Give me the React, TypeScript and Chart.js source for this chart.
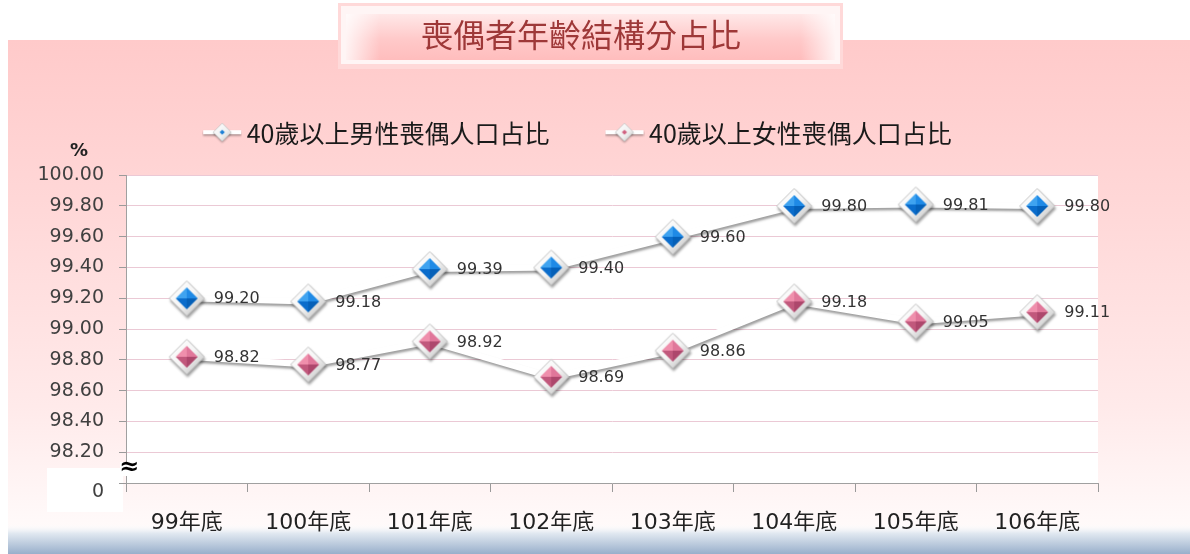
import React, { useEffect, useRef } from 'react';
import { Chart, registerables } from 'chart.js';

Chart.register(...registerables);

// ---------- data ----------
const categories = ['99年底', '100年底', '101年底', '102年底', '103年底', '104年底', '105年底', '106年底'];
const seriesNames = ['40歲以上男性喪偶人口占比', '40歲以上女性喪偶人口占比'];
const maleValues = [99.2, 99.18, 99.39, 99.4, 99.6, 99.8, 99.81, 99.8];
const femaleValues = [98.82, 98.77, 98.92, 98.69, 98.86, 99.18, 99.05, 99.11];
const yMin = 98.0;
const yMax = 100.0;
const yStep = 0.2;
const titleText = '喪偶者年齡結構分占比';
const unitLabel = '%';
const breakLabel = '0';
const breakSymbol = '≈';

// ---------- drawing helpers ----------
function diamondPath(g: CanvasRenderingContext2D, cx: number, cy: number, r: number) {
  g.beginPath();
  g.moveTo(cx, cy - r);
  g.lineTo(cx + r, cy);
  g.lineTo(cx, cy + r);
  g.lineTo(cx - r, cy);
  g.closePath();
}

function tri(g: CanvasRenderingContext2D, pts: number[][], color: string) {
  g.beginPath();
  g.moveTo(pts[0][0], pts[0][1]);
  g.lineTo(pts[1][0], pts[1][1]);
  g.lineTo(pts[2][0], pts[2][1]);
  g.closePath();
  g.fillStyle = color;
  g.fill();
}

function makeMarker(facets: string[]) {
  const size = 42;
  const c = document.createElement('canvas');
  c.width = size;
  c.height = size;
  const g = c.getContext('2d')!;
  const cx = size / 2;
  const cy = size / 2;
  const R = 17.5;
  const r = 11;
  diamondPath(g, cx, cy, R);
  const og = g.createLinearGradient(cx - R, cy - R, cx + R, cy + R);
  og.addColorStop(0, '#ffffff');
  og.addColorStop(0.5, '#f6f6f6');
  og.addColorStop(1, '#b8b8b8');
  g.fillStyle = og;
  g.fill();
  g.strokeStyle = '#c4c4c4';
  g.lineWidth = 1;
  g.stroke();
  // facets: top-left, top-right, bottom-right, bottom-left
  tri(g, [[cx - r, cy], [cx, cy - r], [cx, cy]], facets[0]);
  tri(g, [[cx, cy - r], [cx + r, cy], [cx, cy]], facets[1]);
  tri(g, [[cx + r, cy], [cx, cy + r], [cx, cy]], facets[2]);
  tri(g, [[cx, cy + r], [cx - r, cy], [cx, cy]], facets[3]);
  return c;
}

function makeLegendIcon(color: string) {
  const w = 40;
  const h = 26;
  const c = document.createElement('canvas');
  c.width = w;
  c.height = h;
  const g = c.getContext('2d')!;
  const cy = 12;
  g.save();
  g.shadowColor = 'rgba(0,0,0,0.35)';
  g.shadowBlur = 2;
  g.shadowOffsetY = 1.5;
  g.strokeStyle = '#ffffff';
  g.lineWidth = 4;
  g.beginPath();
  g.moveTo(1, cy);
  g.lineTo(w - 1, cy);
  g.stroke();
  diamondPath(g, w / 2, cy, 9);
  const og = g.createLinearGradient(w / 2 - 9, cy - 9, w / 2 + 9, cy + 9);
  og.addColorStop(0, '#ffffff');
  og.addColorStop(0.6, '#f0f0f0');
  og.addColorStop(1, '#c0c0c0');
  g.fillStyle = og;
  g.fill();
  g.restore();
  g.strokeStyle = '#c8c8c8';
  g.lineWidth = 0.8;
  diamondPath(g, w / 2, cy, 9);
  g.stroke();
  diamondPath(g, w / 2, cy, 2.6);
  g.fillStyle = color;
  g.fill();
  return c;
}

const FONT_LATIN = "'DejaVu Sans', 'Noto Sans CJK TC', sans-serif";
const FONT_CJK = "'Noto Sans CJK TC', 'DejaVu Sans', sans-serif";

const backgroundPlugin = {
  id: 'backgroundPanels',
  beforeDraw(chart: any) {
    const { ctx, chartArea } = chart;
    const W = chart.width;
    const H = chart.height;
    ctx.save();
    ctx.fillStyle = '#ffffff';
    ctx.fillRect(0, 0, W, H);
    // pink panel
    const pg = ctx.createLinearGradient(0, 40, 0, 528);
    pg.addColorStop(0, '#ffcaca');
    pg.addColorStop(0.35, '#ffd8d8');
    pg.addColorStop(0.75, '#ffeaea');
    pg.addColorStop(1, '#fffafa');
    ctx.fillStyle = pg;
    ctx.fillRect(8, 40, W - 8, 514);
    // blue bottom band
    const bg = ctx.createLinearGradient(0, 524, 0, 554);
    bg.addColorStop(0, 'rgba(255,255,255,0)');
    bg.addColorStop(0.3, '#e2e9f1');
    bg.addColorStop(1, '#98afcb');
    ctx.fillStyle = bg;
    ctx.fillRect(8, 524, W - 8, 30);
    // title box
    ctx.fillStyle = '#ffd9d9';
    ctx.fillRect(338, 3, 505, 66);
    ctx.fillStyle = '#fff5f5';
    ctx.fillRect(341, 6, 499, 58);
    const tg = ctx.createLinearGradient(0, 14, 0, 60);
    tg.addColorStop(0, '#ffe8e8');
    tg.addColorStop(0.55, '#ffc9c9');
    tg.addColorStop(1, '#ffbdbd');
    ctx.fillStyle = tg;
    ctx.fillRect(346, 14, 489, 46);
    const hg = ctx.createLinearGradient(346, 0, 835, 0);
    hg.addColorStop(0, 'rgba(255,255,255,0.8)');
    hg.addColorStop(0.07, 'rgba(255,255,255,0)');
    hg.addColorStop(0.93, 'rgba(255,255,255,0)');
    hg.addColorStop(1, 'rgba(255,255,255,0.8)');
    ctx.fillStyle = hg;
    ctx.fillRect(346, 14, 489, 46);
    // white box behind axis break label
    ctx.fillStyle = '#ffffff';
    ctx.fillRect(47, 468, 76, 44);
    // plot area
    ctx.fillStyle = '#ffffff';
    ctx.fillRect(chartArea.left, chartArea.top, chartArea.right - chartArea.left, chartArea.bottom - chartArea.top);
    ctx.restore();
  },
};

const shadowPlugin = {
  id: 'lineShadow',
  beforeDatasetDraw(chart: any) {
    const ctx = chart.ctx;
    ctx.save();
    ctx.shadowColor = 'rgba(0,0,0,0.38)';
    ctx.shadowBlur = 2.5;
    ctx.shadowOffsetX = 1;
    ctx.shadowOffsetY = 2.5;
  },
  afterDatasetDraw(chart: any) {
    chart.ctx.restore();
  },
};

const labelsPlugin = {
  id: 'valueLabels',
  afterDatasetsDraw(chart: any) {
    const ctx = chart.ctx;
    ctx.save();
    ctx.font = `16px ${FONT_LATIN}`;
    ctx.fillStyle = '#333333';
    ctx.textAlign = 'left';
    ctx.textBaseline = 'middle';
    chart.data.datasets.forEach((ds: any, di: number) => {
      const meta = chart.getDatasetMeta(di);
      meta.data.forEach((pt: any, i: number) => {
        ctx.fillText(Number(ds.data[i]).toFixed(2), pt.x + 27, pt.y + 1);
      });
    });
    ctx.restore();
  },
  afterDraw(chart: any) {
    const ctx = chart.ctx;
    const { chartArea } = chart;
    ctx.save();
    // unit label
    ctx.font = `bold 18px ${FONT_LATIN}`;
    ctx.fillStyle = '#222222';
    ctx.textAlign = 'center';
    ctx.textBaseline = 'middle';
    ctx.fillText(unitLabel, 79, 151);
    // axis break
    ctx.fillStyle = '#ffffff';
    ctx.fillRect(chartArea.left - 6, 462, 14, 14);
    ctx.font = `bold 24px 'DejaVu Serif', serif`;
    ctx.fillStyle = '#000000';
    ctx.fillText(breakSymbol, chartArea.left + 3, 468);
    // zero label
    ctx.font = `19px ${FONT_LATIN}`;
    ctx.fillStyle = '#404040';
    ctx.textAlign = 'right';
    ctx.fillText(breakLabel, 104, 492);
    ctx.restore();
  },
};

export default function App() {
  const canvasRef = useRef<HTMLCanvasElement>(null);

  useEffect(() => {
    document.body.style.margin = '0';
    document.body.style.overflow = 'hidden';
    const blueMarker = makeMarker(['#3fa3f0', '#1f8ae6', '#0560b8', '#0a6ccb']);
    const pinkMarker = makeMarker(['#ef8fac', '#e0779a', '#ad476c', '#c1587c']);
    const legendIcons = [makeLegendIcon('#1a7fd6'), makeLegendIcon('#d0607f')];

    const chart = new Chart(canvasRef.current!, {
      type: 'line',
      data: {
        labels: categories,
        datasets: [
          {
            label: seriesNames[0],
            data: maleValues,
            borderColor: '#ffffff',
            backgroundColor: '#1a7fd6',
            borderWidth: 6,
            pointStyle: blueMarker as any,
            pointRadius: 17,
            tension: 0,
            yAxisID: 'y',
          },
          {
            label: seriesNames[1],
            data: femaleValues,
            borderColor: '#ffffff',
            backgroundColor: '#d0607f',
            borderWidth: 6,
            pointStyle: pinkMarker as any,
            pointRadius: 17,
            tension: 0,
            yAxisID: 'y',
          },
        ],
      },
      options: {
        responsive: false,
        animation: false,
        devicePixelRatio: 1,
        events: [],
        layout: { padding: { left: 0, right: 28, top: 0, bottom: 0 } },
        scales: {
          x: {
            type: 'category',
            offset: true,
            grid: {
              display: true,
              drawOnChartArea: false,
              offset: true,
              tickLength: 9,
              tickColor: '#9a9a9a',
              color: '#9a9a9a',
            },
            border: { display: true, color: '#a0a0a0', width: 1 },
            ticks: {
              font: { size: 22, family: FONT_LATIN },
              color: '#222222',
              padding: 18,
              maxRotation: 0,
              autoSkip: false,
            },
            afterFit(scale: any) {
              scale.height = 71;
            },
          },
          y: {
            type: 'linear',
            position: 'left',
            min: yMin,
            max: yMax,
            grid: {
              color: '#ebc9d5',
              lineWidth: 1,
              tickLength: 7,
              tickColor: '#9a9a9a',
            },
            border: { display: true, color: '#a0a0a0', width: 1 },
            ticks: {
              stepSize: yStep,
              font: { size: 19, family: FONT_LATIN },
              color: '#404040',
              padding: 15,
              callback: (v: any) => (Math.abs(Number(v) - yMin) < 1e-6 ? '' : Number(v).toFixed(2)),
            },
            afterFit(scale: any) {
              scale.width = 126;
            },
          },
          yRight: {
            type: 'linear',
            position: 'right',
            display: true,
            grid: { display: false, drawTicks: false },
            border: { display: false },
            ticks: { display: false },
            afterFit(scale: any) {
              scale.width = 64;
            },
          },
        },
        plugins: {
          title: {
            display: true,
            text: titleText,
            color: '#9e3838',
            font: { size: 32, family: FONT_CJK, weight: 'normal', lineHeight: 1.2 },
            padding: { top: 15.8, bottom: 3.5 },
          },
          legend: {
            display: true,
            position: 'top',
            labels: {
              usePointStyle: true,
              pointStyleWidth: 24,
              padding: 63,
              color: '#1a1a1a',
              font: { size: 25, family: FONT_CJK },
              generateLabels: (ch: any) =>
                (Chart.defaults.plugins.legend.labels.generateLabels as any)(ch).map((l: any, i: number) => ({
                  ...l,
                  pointStyle: legendIcons[i],
                })),
            },
          },
          subtitle: {
            display: true,
            text: '',
            weight: 500,
            font: { size: 1, lineHeight: 1 },
            padding: { top: 18.5, bottom: 0 },
          },
          tooltip: { enabled: false },
        },
      } as any,
      plugins: [backgroundPlugin, shadowPlugin, labelsPlugin],
    });
    return () => chart.destroy();
  }, []);

  return (
    <div style={{ width: 1190, height: 554, position: 'relative', overflow: 'hidden' }}>
      <canvas ref={canvasRef} width={1190} height={554} style={{ display: 'block', width: 1190, height: 554 }} />
    </div>
  );
}
